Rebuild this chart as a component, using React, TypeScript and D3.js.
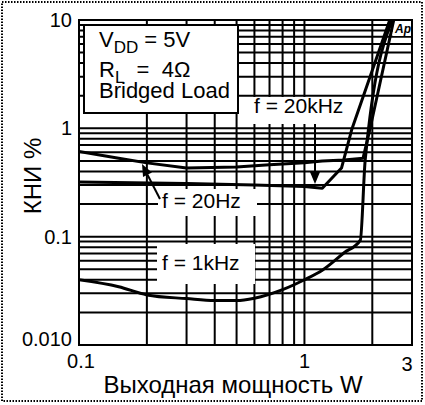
import React, { useEffect, useRef } from 'react';
import * as d3 from 'd3';

// output power W and THD+N %
const power20Hz = [0.1, 0.15, 0.2, 0.3, 0.5, 0.7, 1, 1.2, 1.5, 1.82, 1.95, 2.49];
const thd20Hz = [0.61, 0.53, 0.48, 0.43, 0.44, 0.46, 0.48, 0.5, 0.51, 0.53, 0.97, 10];

const power20kHz = [0.1, 0.3, 0.6, 1, 1.2, 1.46, 1.62, 2.39];
const thd20kHz = [0.32, 0.31, 0.3, 0.29, 0.28, 0.43, 0.97, 10];

const power1kHz = [0.1, 0.15, 0.2, 0.3, 0.4, 0.5, 0.6, 0.8, 1, 1.2, 1.5, 1.77, 1.86, 2.45];
const thd1kHz = [0.04, 0.0345, 0.029, 0.0268, 0.0257, 0.0257, 0.027, 0.0324, 0.04, 0.049, 0.071, 0.093, 0.51, 10];

const xTicks = [0.1, 1, 3];
const xTickLabels = ['0.1', '1', '3'];
const yTicks = [10, 1, 0.1, 0.01];
const yTickLabels = ['10', '1', '0.1', '0.010'];
const xGrid = [0.2, 0.3, 0.4, 0.5, 0.6, 0.7, 0.8, 0.9, 1, 2];
const yGrid = [
  0.02, 0.03, 0.04, 0.05, 0.06, 0.07, 0.08, 0.09, 0.1,
  0.2, 0.3, 0.4, 0.5, 0.6, 0.7, 0.8, 0.9, 1,
  2, 3, 4, 5, 6, 7, 8, 9,
];

const FONT = '"Liberation Sans", Arial, Helvetica, sans-serif';

const App = () => {
  const svgRef = useRef<SVGSVGElement>(null);

  useEffect(() => {
    const width = 425;
    const height = 405;
    const margin = { top: 20, right: 13, bottom: 60, left: 79 };

    const svg = d3.select(svgRef.current);
    svg.selectAll('*').remove();

    const x = d3.scaleLog().domain([0.1, 3]).range([margin.left, width - margin.right]);
    const y = d3.scaleLog().domain([0.01, 10]).range([height - margin.bottom, margin.top]);
    const [x0, x1] = x.range();
    const [y0, y1] = y.range();

    // outer dotted border
    svg.append('rect')
      .attr('x', 2).attr('y', 2).attr('width', width - 5).attr('height', height - 6)
      .attr('fill', 'none').attr('stroke', '#000').attr('stroke-width', 2)
      .attr('stroke-dasharray', '1.5 1.5');

    svg.append('defs').append('clipPath').attr('id', 'plot-clip')
      .append('rect').attr('x', x0).attr('y', y1).attr('width', x1 - x0).attr('height', y0 - y1);

    const grid = svg.append('g').attr('stroke', '#000').attr('stroke-width', 2);
    grid.selectAll('line.v').data(xGrid).join('line').attr('class', 'v')
      .attr('x1', d => x(d)).attr('x2', d => x(d)).attr('y1', y1).attr('y2', y0);
    grid.selectAll('line.h').data(yGrid).join('line').attr('class', 'h')
      .attr('y1', d => y(d)).attr('y2', d => y(d)).attr('x1', x0).attr('x2', x1);

    // white boxes behind the annotations (pixels)
    const boxes = [
      { x: 84, y: 25, w: 154, h: 88, stroke: true },
      { x: 251, y: 97, w: 97, h: 27, stroke: false },
      { x: 158, y: 189, w: 99, h: 27, stroke: false },
      { x: 157, y: 244, w: 98, h: 40, stroke: false },
      { x: 393, y: 21, w: 18, h: 15, stroke: false },
    ];
    svg.append('g').selectAll('rect').data(boxes).join('rect')
      .attr('x', d => d.x).attr('y', d => d.y).attr('width', d => d.w).attr('height', d => d.h)
      .attr('fill', '#fff')
      .attr('stroke', d => (d.stroke ? '#000' : 'none'))
      .attr('stroke-width', 2);

    const series = [
      { p: power20Hz, t: thd20Hz, curve: d3.curveLinear },
      { p: power20kHz, t: thd20kHz, curve: d3.curveLinear },
      { p: power1kHz, t: thd1kHz, curve: d3.curveMonotoneX },
    ];
    svg.append('g').attr('clip-path', 'url(#plot-clip)')
      .selectAll('path').data(series).join('path')
      .attr('fill', 'none').attr('stroke', '#000').attr('stroke-width', 3)
      .attr('stroke-linejoin', 'round')
      .attr('d', s => d3.line<number>()
        .x((d, i) => x(s.p[i]))
        .y(d => y(d))
        .curve(s.curve)(s.t));

    // frame
    svg.append('rect')
      .attr('x', x0).attr('y', y1).attr('width', x1 - x0).attr('height', y0 - y1)
      .attr('fill', 'none').attr('stroke', '#000').attr('stroke-width', 2);

    // arrows
    const arrow = (fx: number, fy: number, tx: number, ty: number) => {
      const ang = Math.atan2(ty - fy, tx - fx);
      const len = 12;
      const half = 5;
      const bx = tx - len * Math.cos(ang);
      const by = ty - len * Math.sin(ang);
      svg.append('line').attr('x1', fx).attr('y1', fy).attr('x2', bx).attr('y2', by)
        .attr('stroke', '#000').attr('stroke-width', 2);
      svg.append('path')
        .attr('d', `M${tx},${ty}L${bx + half * Math.sin(ang)},${by - half * Math.cos(ang)}L${bx - half * Math.sin(ang)},${by + half * Math.cos(ang)}Z`)
        .attr('fill', '#000');
    };
    arrow(160, 199, 142, 164);
    arrow(315, 124, 315, 184);

    const text = (tx: number, ty: number, s: string, size: number, anchor = 'start') =>
      svg.append('text').attr('x', tx).attr('y', ty).attr('font-size', size)
        .attr('font-family', FONT).attr('text-anchor', anchor).attr('fill', '#000').text(s);

    // tick labels
    svg.append('g').selectAll('text').data(xTicks).join('text')
      .attr('x', (d, i) => x(d) + (i === 0 ? 2 : i === 2 ? -5 : 0))
      .attr('y', (d, i) => y0 + (i === 2 ? 26 : 23))
      .attr('text-anchor', 'middle').attr('font-size', 20).attr('font-family', FONT)
      .text((d, i) => xTickLabels[i]);
    svg.append('g').selectAll('text').data(yTicks).join('text')
      .attr('x', x0 - 7)
      .attr('y', (d, i) => y(d) + (i === 3 ? 1 : 7))
      .attr('text-anchor', 'end').attr('font-size', 20).attr('font-family', FONT)
      .text((d, i) => yTickLabels[i]);

    // axis titles
    text(233, 393, 'Выходная мощность W', 24, 'middle');
    svg.append('text')
      .attr('transform', 'translate(41, 176) rotate(-90)')
      .attr('text-anchor', 'middle').attr('font-size', 24).attr('font-family', FONT)
      .text('КНИ %');

    // legend box text
    const lx = 99;
    const t1 = text(lx, 47, 'V', 22);
    t1.append('tspan').attr('font-size', 17).attr('dy', 6).text('DD');
    t1.append('tspan').attr('dy', -6).text(' = 5V');
    const t2 = text(lx, 77, 'R', 22);
    t2.append('tspan').attr('font-size', 17).attr('dy', 6).text('L');
    t2.append('tspan').attr('dy', -6).attr('xml:space', 'preserve').text('  =  4Ω');
    text(lx, 98, 'Bridged Load', 22);

    text(254, 113, 'f = 20kHz', 21);
    text(162, 208, 'f = 20Hz', 21);
    text(162, 270, 'f = 1kHz', 21);
    svg.append('text').attr('x', 395).attr('y', 33)
      .attr('font-size', 12).attr('font-weight', 'bold').attr('font-style', 'italic')
      .attr('font-family', FONT).text('Ap');
  }, []);

  return (
    <svg
      ref={svgRef}
      width={425}
      height={405}
      style={{ position: 'absolute', left: 0, top: 0, background: '#fff' }}
    />
  );
};

export default App;
